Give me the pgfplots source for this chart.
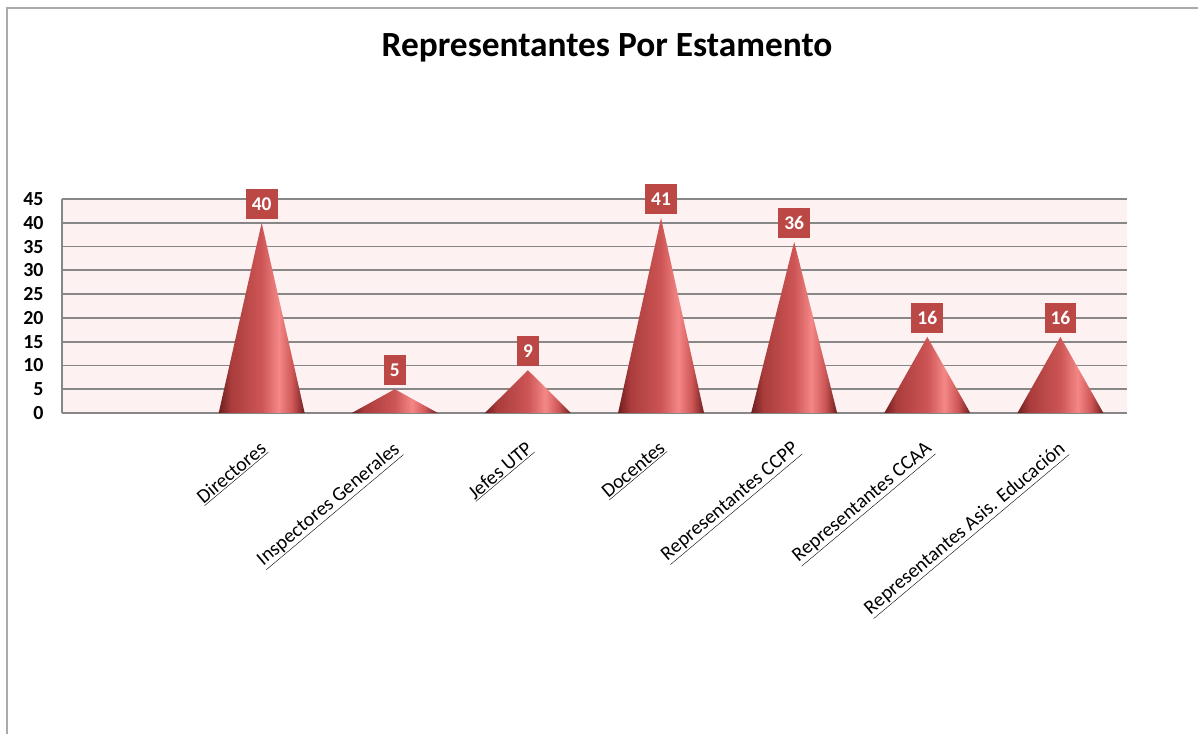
\documentclass[border=0pt]{standalone}
\usepackage{fontspec}
\setmainfont{Carlito}
\usepackage{pgfplots}
\pgfplotsset{compat=1.18}

\definecolor{bgpink}{RGB}{253,241,241}
\definecolor{gridgray}{RGB}{135,135,135}
\definecolor{boxred}{RGB}{188,72,70}
\definecolor{frameline}{RGB}{170,170,170}
\definecolor{coneA}{RGB}{110,30,30}
\definecolor{coneB}{RGB}{170,60,60}
\definecolor{coneC}{RGB}{205,85,85}
\definecolor{coneD}{RGB}{244,135,135}

% horizontal cone shading, highlight a bit right of centre
\pgfdeclarehorizontalshading{cone}{100bp}{color(0bp)=(coneA); color(25bp)=(coneA); color(32bp)=(coneB); color(50bp)=(coneC); color(60bp)=(coneD); color(68bp)=(coneC); color(75bp)=(coneA); color(100bp)=(coneA)}

\begin{document}
\begin{tikzpicture}
	\useasboundingbox (0,0) rectangle (1198bp,734bp);
	\draw[frameline, line width=1.5bp] (7bp,0) -- (7bp,726bp) -- (1198bp,726bp);
	\node[anchor=base, font=\fontsize{35.5}{42}\selectfont\bfseries] at (607bp,677bp) {Representantes Por Estamento};

	\begin{axis}[
		at={(62bp,321bp)}, anchor=south west,
		scale only axis, width=1065bp, height=214bp,
		clip=false,
		axis background/.style={fill=bgpink},
		axis lines*=left,
		axis line style={-, gridgray, line width=1.8bp},
		major tick length=0pt,
		% X
		xmin=-0.5, xmax=7.5,
		xtick={1,2,3,4,5,6,7},
		xticklabels={\underline{Directores}, \underline{Inspectores Generales}, \underline{Jefes UTP}, \underline{Docentes}, \underline{Representantes CCPP}, \underline{Representantes CCAA}, \underline{Representantes Asis. Educación}},
		xticklabel style={font=\fontsize{20}{24}\selectfont, rotate=40, anchor=north east, xshift=-16.5bp, yshift=-15.5bp},
		% Y
		ymin=0, ymax=45,
		ytick={0,5,...,45},
		ymajorgrids,
		grid style={gridgray, line width=1.8bp},
		yticklabel style={font=\fontsize{20}{24}\selectfont\bfseries, xshift=-15bp},
		/pgf/number format/assume math mode=true,
		]
		\addplot[draw=none, shade, shading=cone] coordinates {(0.677,0) (1,40) (1.323,0)} \closedcycle;
		\addplot[draw=none, shade, shading=cone] coordinates {(1.677,0) (2,5) (2.323,0)} \closedcycle;
		\addplot[draw=none, shade, shading=cone] coordinates {(2.677,0) (3,9) (3.323,0)} \closedcycle;
		\addplot[draw=none, shade, shading=cone] coordinates {(3.677,0) (4,41) (4.323,0)} \closedcycle;
		\addplot[draw=none, shade, shading=cone] coordinates {(4.677,0) (5,36) (5.323,0)} \closedcycle;
		\addplot[draw=none, shade, shading=cone] coordinates {(5.677,0) (6,16) (6.323,0)} \closedcycle;
		\addplot[draw=none, shade, shading=cone] coordinates {(6.677,0) (7,16) (7.323,0)} \closedcycle;

		% value labels
		\addplot[draw=none, mark=none, nodes near coords,
			nodes near coords style={anchor=south, yshift=4bp, fill=boxred, text=white,
				font=\fontsize{19.5}{22}\selectfont\bfseries, inner xsep=6bp, inner ysep=8.5bp,
				text height=13bp, text depth=0bp}]
		coordinates {(1,40) (2,5) (3,9) (4,41) (5,36) (6,16) (7,16)};
	\end{axis}
\end{tikzpicture}
\end{document}
